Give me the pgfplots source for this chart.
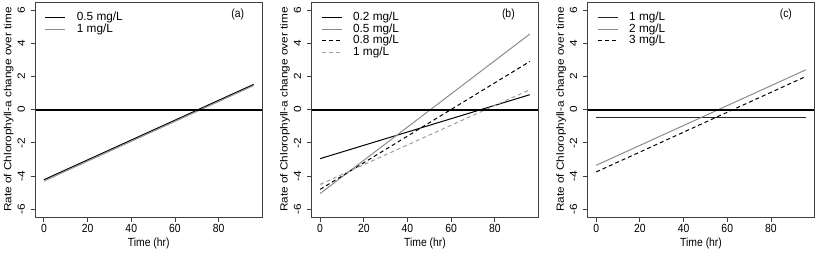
\documentclass[border=0pt]{standalone}
\usepackage{fontspec}
\setmainfont{Liberation Sans}
\usepackage{pgfplots}
\pgfplotsset{compat=1.18}
\definecolor{lgray}{gray}{0.55}
\definecolor{dgray}{gray}{0.62}
\begin{document}
\begin{tikzpicture}[font=\fontsize{11.8}{14}\selectfont]
\path[use as bounding box] (0,0) rectangle (817pt,252pt);
\pgfplotsset{
 panel/.style={
  width=226.5pt, height=215.3pt, scale only axis, anchor=south west,
  xmin=-3.84, xmax=99.84, ymin=-6.48, ymax=6.48,
  xtick={0,20,40,60,80}, ytick={-6,-4,-2,0,2,4,6},
  tick align=outside, xtick pos=left, ytick pos=left,
  major tick length=5pt,
  axis line style={black!75, line width=0.9pt},
  tick style={black!75, line width=0.9pt},
  /pgf/number format/assume math mode=true,
  xticklabel style={yshift=-0.5pt, xscale=0.88, inner sep=1pt},
  yticklabel style={xshift=-4.5pt, rotate=90, yscale=0.88, anchor=south, inner sep=1pt},
  xlabel={Time (hr)}, ylabel={Rate of Chlorophyll-a change over time},
  every axis x label/.style={at={(axis description cs:0.5,0)}, anchor=center, yshift=-26pt, xscale=0.88},
  every axis y label/.style={at={(axis description cs:0,0.5)}, xshift=-26.7pt, rotate=90, yscale=0.88, anchor=center},
  legend image code/.code={\draw[##1] (0pt,0pt) -- (20pt,0pt);},
  legend cell align=left,
  legend style={draw=none, fill=none, at={(axis description cs:0,1)}, anchor=north west,
    xshift=6.2pt, yshift=-8pt, row sep=1.4pt,
    nodes={inner xsep=0pt, inner ysep=0pt, text height=8.3pt, text depth=2pt},
    /tikz/every odd column/.append style={column sep=11pt}},
 },
 dataline/.style={line width=1pt},
}
% Panel (a)
\begin{axis}[panel, at={(35.5pt,34.7pt)}]
\addplot[dataline, black] coordinates {(0,-4.22) (96,1.52)};
\addplot[dataline, lgray] coordinates {(0,-4.30) (96,1.45)};
\addplot[black, line width=2pt, forget plot] coordinates {(-3.84,0) (99.84,0)};
\legend{0.5 mg/L, 1 mg/L}
\node[anchor=east, xscale=0.88] at (axis description cs:0.935,0.94) {(a)};
\end{axis}
% Panel (b)
\begin{axis}[panel, at={(311.7pt,34.7pt)}]
\addplot[dataline, black] coordinates {(0,-2.95) (96,0.90)};
\addplot[dataline, lgray] coordinates {(0,-5.05) (96,4.55)};
\addplot[dataline, black, dash pattern=on 4pt off 3pt] coordinates {(0,-4.80) (96,2.90)};
\addplot[dataline, dgray, dash pattern=on 4pt off 3pt] coordinates {(0,-4.50) (96,1.20)};
\addplot[black, line width=2pt, forget plot] coordinates {(-3.84,0) (99.84,0)};
\legend{0.2 mg/L, 0.5 mg/L, 0.8 mg/L, 1 mg/L}
\node[anchor=east, xscale=0.88] at (axis description cs:0.91,0.94) {(b)};
\end{axis}
% Panel (c)
\begin{axis}[panel, at={(587.8pt,34.7pt)}]
\addplot[dataline, black!85] coordinates {(0,-0.48) (96,-0.48)};
\addplot[dataline, lgray] coordinates {(0,-3.35) (96,2.40)};
\addplot[dataline, black, dash pattern=on 4pt off 3pt] coordinates {(0,-3.75) (96,2.00)};
\addplot[black, line width=2pt, forget plot] coordinates {(-3.84,0) (99.84,0)};
\legend{1 mg/L, 2 mg/L, 3 mg/L}
\node[anchor=east, xscale=0.88] at (axis description cs:0.915,0.94) {(c)};
\end{axis}
\end{tikzpicture}
\end{document}
